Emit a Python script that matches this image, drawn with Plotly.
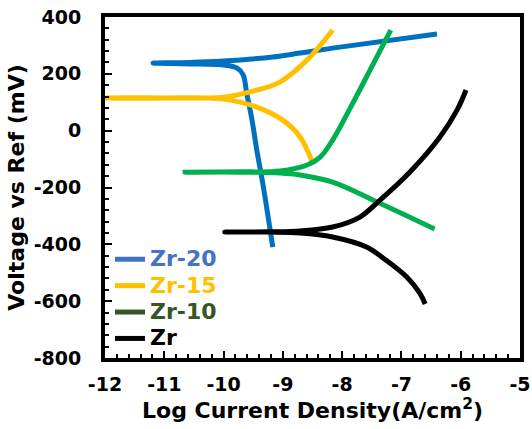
import plotly.graph_objects as go

# Zr-20 (cathodic -> Ecorr tip -> anodic)
zr20_x = [-9.17, -9.34, -9.44, -9.52, -9.61, -9.67, -9.77, -10.01, -10.57, -11.19,
          -10.57, -10.01, -9.17, -8.71, -8.04, -6.40]
zr20_y = [-410, -184, -68, 37, 132, 196, 220, 231, 235, 238,
          240, 245, 259, 273, 294, 340]

# Zr-15
zr15_x = [-8.49, -8.71, -9.00, -9.44, -10.01, -11.41, -12.0,
          -11.41, -10.01, -9.56, -9.05, -8.59, -8.16]
zr15_y = [-117, -22, 37, 83, 111, 114, 115,
          116, 118, 136, 171, 249, 354]

# Zr-10
zr10_x = [-6.44, -7.41, -8.16, -8.71, -9.05, -9.72, -10.65,
          -9.72, -9.05, -8.59, -8.37, -8.16, -7.82, -7.53, -7.18]
zr10_y = [-346, -251, -181, -156, -149, -146, -146,
          -145, -142, -121, -93, -33, 97, 213, 354]

# Zr
zr_x = [-6.60, -6.69, -6.91, -7.31, -7.58, -8.16, -8.71, -9.22, -9.98,
        -9.22, -8.71, -8.16, -7.70, -7.36, -6.86, -6.35, -6.06, -5.91]
zr_y = [-610, -572, -515, -448, -410, -374, -360, -357, -357,
        -356, -353, -339, -304, -244, -146, -22, 73, 143]

series_names = ["Zr-20", "Zr-15", "Zr-10", "Zr"]
line_colors = ["#0070C0", "#FFC000", "#00B050", "#000000"]
legend_colors = ["#4472C4", "#FFC000", "#375623", "#000000"]

x_ticks = [-12, -11, -10, -9, -8, -7, -6, -5]
x_tick_labels = ["-12", "-11", "-10", "-9", "-8", "-7", "-6", "-5"]
y_ticks = [-800, -600, -400, -200, 0, 200, 400]
y_tick_labels = ["-800", "-600", "-400", "-200", "0", "200", "400"]

fig = go.Figure()
for xs, ys, c in zip([zr20_x, zr15_x, zr10_x, zr_x], [zr20_y, zr15_y, zr10_y, zr_y], line_colors):
    fig.add_trace(go.Scatter(x=xs, y=ys, mode="lines", showlegend=False,
                             line=dict(color=c, width=5, shape="spline", smoothing=1.0)))

for n, c in zip(series_names, legend_colors):
    fig.add_trace(go.Scatter(x=[None], y=[None], mode="lines",
                             name=f'<span style="color:{c};font-size:22px">{n}</span>',
                             line=dict(color=c, width=5)))

font_family = "DejaVu Sans, Verdana, sans-serif"
fig.update_layout(
    width=532, height=429,
    margin=dict(l=105, r=12, t=17, b=71, autoexpand=False),
    paper_bgcolor="white", plot_bgcolor="white",
    font=dict(family=font_family, color="black"),
    showlegend=True,
    legend=dict(x=0.012, y=0.343, xanchor="left", yanchor="top",
                bgcolor="rgba(0,0,0,0)", font=dict(size=18, weight="bold"),
                itemwidth=30, tracegroupgap=0),
    xaxis=dict(range=[-12, -5], tickvals=x_ticks, ticktext=x_tick_labels,
               ticks="inside", ticklen=7, tickwidth=2,
               tickcolor="black", showline=True, linewidth=4, linecolor="black", mirror=True,
               showgrid=False, zeroline=False, automargin=False, ticklabeloverflow="allow",
               tickfont=dict(size=19, weight="bold"), ticklabelstandoff=6,
               minor=dict(dtick=0.2, ticks="inside", ticklen=4, tickwidth=1.5, tickcolor="black")),
    yaxis=dict(range=[-800, 400], tickvals=y_ticks, ticktext=y_tick_labels,
               ticks="inside", ticklen=7, tickwidth=2,
               tickcolor="black", showline=True, linewidth=4, linecolor="black", mirror=True,
               showgrid=False, zeroline=False, automargin=False, ticklabeloverflow="allow",
               tickfont=dict(size=19, weight="bold"), ticklabelstandoff=16,
               minor=dict(dtick=40, ticks="inside", ticklen=4, tickwidth=1.5, tickcolor="black"),
               title=dict(text="Voltage vs Ref (mV)",
                          font=dict(size=22, weight="bold"), standoff=4)),
    annotations=[dict(text="Log Current Density(A/cm<sup>2</sup>)", xref="paper", yref="paper",
                      x=0.5, y=-0.150, xanchor="center", yanchor="middle", showarrow=False,
                      font=dict(size=22, weight="bold", color="black"))],
)

fig.write_html("out.html")
